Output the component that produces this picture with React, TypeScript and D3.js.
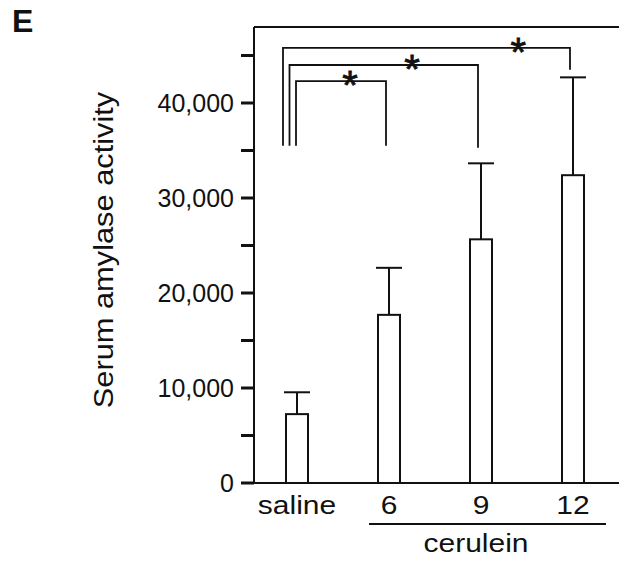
import React from "react";
import * as d3 from "d3";

// ---- data ----
const categories = ["saline", "6", "9", "12"];
const means = [7250, 17700, 25650, 32400];
const errorsUp = [2300, 4950, 8000, 10300];
const yMajorTicks = [0, 10000, 20000, 30000, 40000];
const yMinorTicks = [5000, 15000, 25000, 35000, 45000];
const groupMembers = ["6", "9", "12"];
const groupLabel = "cerulein";
const yTitle = "Serum amylase activity";
const panelLabel = "E";
// significance brackets: saline vs each cerulein group
const bracketTargets = ["6", "9", "12"];
const bracketBase = 35500;
const bracketTops = [42300, 44000, 45800];
const bracketRightEnds = [35500, 35300, 43500];
const starFractions = [0.6, 0.65, 0.82];

const W = 619;
const H = 561;
const FONT = "'Liberation Sans', Arial, Helvetica, sans-serif";

export default function App() {
  const y = d3.scaleLinear().domain([0, 45000]).range([483, 55.5]);
  const x = d3.scalePoint<string>().domain(categories).range([297, 573]);
  const axisX = 254;
  const yTop = y(48000);
  const y0 = y(0);
  const barW = 22;
  const capW = 26;
  const fmt = d3.format(",");

  const xs = (c: string) => x(c) as number;

  return (
    <svg
      width={W}
      height={H}
      style={{ position: "absolute", left: 0, top: 0, background: "#fff" }}
      fontFamily={FONT}
    >
      <rect x={0} y={0} width={W} height={H} fill="#fff" />
      {/* panel letter */}
      <text x={12} y={31.7} fontSize={32} fontWeight="bold" fill="#111">
        {panelLabel}
      </text>

      {/* frame */}
      <line x1={axisX} x2={axisX} y1={yTop} y2={y0 + 1} stroke="#111" strokeWidth={2} />
      <line x1={axisX} x2={W} y1={yTop} y2={yTop} stroke="#111" strokeWidth={1.8} />
      <line x1={axisX} x2={W} y1={y0} y2={y0} stroke="#111" strokeWidth={2} />

      {/* y ticks */}
      {[...yMajorTicks, ...yMinorTicks].map((t) => (
        <line key={"t" + t} x1={241} x2={axisX} y1={y(t)} y2={y(t)} stroke="#111" strokeWidth={3} />
      ))}
      {yMajorTicks.map((t) => (
        <text key={"l" + t} x={234} y={y(t) + 9} fontSize={25} textAnchor="end" fill="#111">
          {fmt(t)}
        </text>
      ))}

      {/* y title */}
      <g transform={`translate(113, 250) rotate(-90) scale(1.1, 1)`}>
        <text x={0} y={0} fontSize={28} textAnchor="middle" fill="#111">
          {yTitle}
        </text>
      </g>

      {/* bars + error bars */}
      {categories.map((c, i) => {
        const cx = xs(c);
        const top = y(means[i]);
        const eTop = y(means[i] + errorsUp[i]);
        return (
          <g key={c}>
            <line x1={cx} x2={cx} y1={top} y2={eTop} stroke="#111" strokeWidth={2} />
            <line x1={cx - capW / 2} x2={cx + capW / 2} y1={eTop} y2={eTop} stroke="#111" strokeWidth={2} />
            <rect x={cx - barW / 2} y={top} width={barW} height={y0 - top} fill="#fff" stroke="#111" strokeWidth={2} />
          </g>
        );
      })}

      {/* significance brackets */}
      {bracketTargets.map((tgt, i) => {
        const left = xs("saline") - 1 - i * 6.5;
        const right = xs(tgt) - 3;
        const ty = y(bracketTops[i]);
        const p = d3.path();
        p.moveTo(left, y(bracketBase));
        p.lineTo(left, ty);
        p.lineTo(right, ty);
        p.lineTo(right, y(bracketRightEnds[i]));
        const sx = left + starFractions[i] * (right - left);
        return (
          <g key={"b" + tgt}>
            <path d={p.toString()} fill="none" stroke="#111" strokeWidth={1.8} />
            <text x={sx} y={ty + 18} fontSize={40} textAnchor="middle" fill="#111" stroke="#111" strokeWidth={0.8}>
              *
            </text>
          </g>
        );
      })}

      {/* x labels */}
      {categories.map((c) => (
        <g key={"x" + c} transform={`translate(${xs(c)}, 514) scale(1.2, 1)`}>
          <text x={0} y={0} fontSize={25} textAnchor="middle" fill="#111">
            {c}
          </text>
        </g>
      ))}

      {/* group line + label */}
      <line
        x1={xs(groupMembers[0]) - 20}
        x2={xs(groupMembers[groupMembers.length - 1]) + 33}
        y1={524}
        y2={524}
        stroke="#111"
        strokeWidth={2}
      />
      <g
        transform={`translate(${(xs(groupMembers[0]) + xs(groupMembers[groupMembers.length - 1])) / 2 - 5}, 552) scale(1.2, 1)`}
      >
        <text x={0} y={0} fontSize={25} textAnchor="middle" fill="#111">
          {groupLabel}
        </text>
      </g>
    </svg>
  );
}
